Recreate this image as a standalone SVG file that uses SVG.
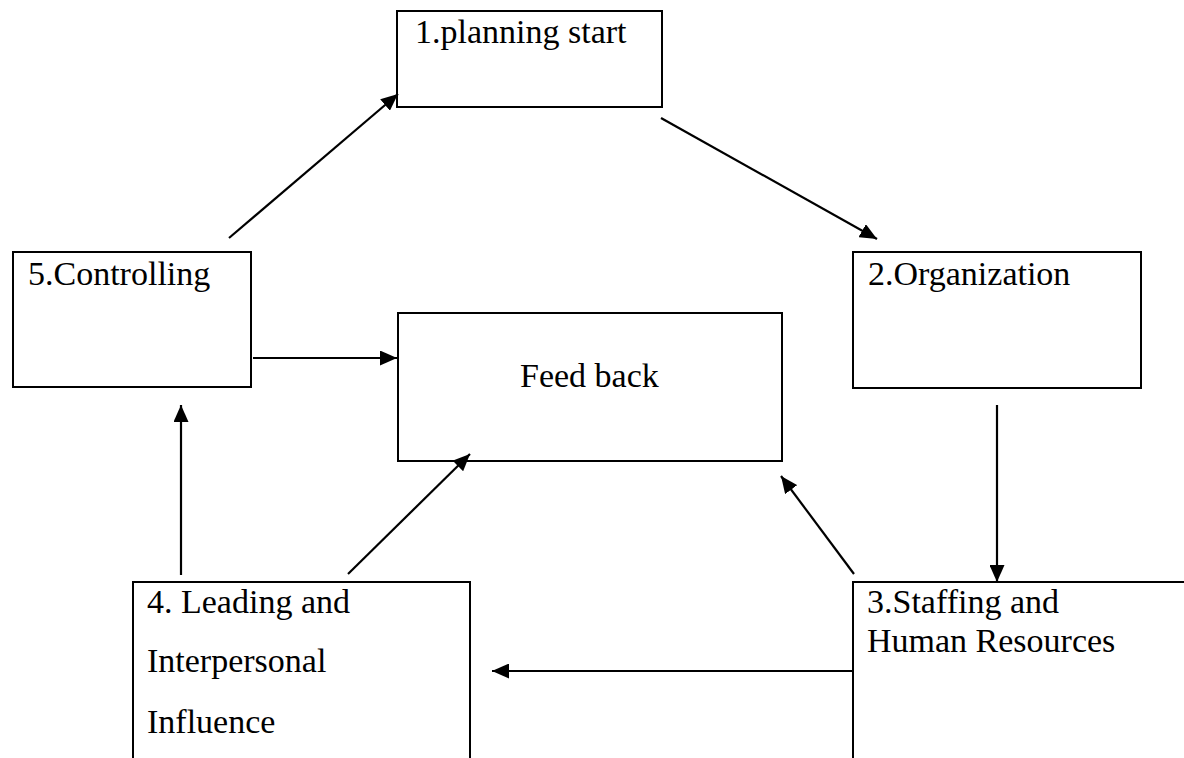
<svg xmlns="http://www.w3.org/2000/svg" width="1184" height="758" viewBox="0 0 1184 758">
<style>
.box{fill:#fff;stroke:#000;stroke-width:2}
.lbl{font-family:"Liberation Serif","Times New Roman",serif;font-size:34px;fill:#000}
.con{stroke:#000;stroke-width:2.2;fill:none;marker-end:url(#ah)}
</style>
<defs>
<marker id="ah" markerUnits="userSpaceOnUse" markerWidth="17" markerHeight="15" viewBox="0 0 17 15" refX="17" refY="7.5" orient="auto">
<path d="M0,0 L17,7.5 L0,15 z" fill="#000"/>
</marker>
</defs>
<rect width="1184" height="758" fill="#fff"/>
<g id="n1"><rect class="box" x="397" y="11" width="265" height="96"/><text class="lbl" x="415" y="43">1.planning start</text></g>
<g id="n2"><rect class="box" x="853" y="252" width="288" height="136"/><text class="lbl" x="868" y="285">2.Organization</text></g>
<g id="n3"><rect class="box" x="853" y="582" width="400" height="250"/><text class="lbl" x="867" y="613">3.Staffing and</text><text class="lbl" x="867" y="652">Human Resources</text></g>
<g id="n4"><rect class="box" x="133" y="582" width="337" height="250"/><text class="lbl" x="147" y="613">4. Leading and</text><text class="lbl" x="147" y="672">Interpersonal</text><text class="lbl" x="147" y="733">Influence</text></g>
<g id="n5"><rect class="box" x="13" y="252" width="238" height="135"/><text class="lbl" x="28" y="285">5.Controlling</text></g>
<g id="fb"><rect class="box" x="398" y="313" width="384" height="148"/><text class="lbl" x="520" y="387">Feed back</text></g>
<g id="connectors">
<line class="con" x1="661" y1="118" x2="877" y2="239"/>
<line class="con" x1="997" y1="405" x2="997" y2="582"/>
<line class="con" x1="853" y1="671" x2="492" y2="671"/>
<line class="con" x1="181" y1="575" x2="181" y2="405"/>
<line class="con" x1="229" y1="238" x2="398" y2="94"/>
<line class="con" x1="253" y1="358" x2="397" y2="358"/>
<line class="con" x1="348" y1="574" x2="470" y2="454"/>
<line class="con" x1="854" y1="574" x2="781" y2="476"/>
</g>
</svg>
